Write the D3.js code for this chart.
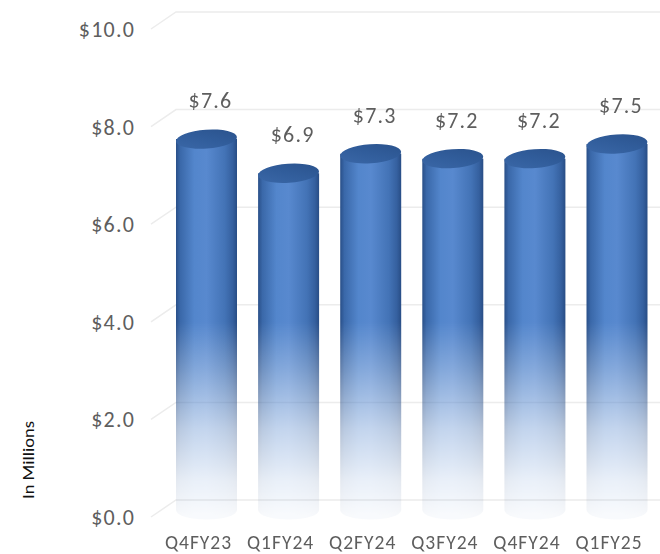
<!DOCTYPE html>
<html>
<head>
<meta charset="utf-8">
<script src="https://cdn.jsdelivr.net/npm/d3@7"></script>
<style>
  html, body { margin: 0; padding: 0; background: #fff; }
  svg { display: block; }
  text { font-family: Carlito, Calibri, Lato, "Open Sans", sans-serif; fill: #5e5e5e; }
</style>
</head>
<body>
<svg id="chart" width="660" height="554"></svg>
<script>
// Quarterly values, in millions of dollars
const quarters = ["Q4FY23", "Q1FY24", "Q2FY24", "Q3FY24", "Q4FY24", "Q1FY25"];
const revenue = [7.6, 6.9, 7.3, 7.2, 7.2, 7.5];
const yTicks = [0, 2, 4, 6, 8, 10];
const yTitle = "In Millions";

const svg = d3.select("#chart");
const W = 660, H = 554;

// Front-edge value scale; the back wall sits up and to the right of it
const y = d3.scaleLinear().domain([0, 10]).range([517, 29]);
const depthX = 25, depthY = -17;
const x = d3.scalePoint().domain(quarters).range([206.5, 617]);
const barW = 61;
const rx = barW / 2, ry = 9.5;

const defs = svg.append("defs");

// Horizontal shading across the cylinder body
const bodyGrad = defs.append("linearGradient").attr("id", "body").attr("x1", 0).attr("x2", 1).attr("y1", 0).attr("y2", 0);
[[0, "#294f88"], [0.07, "#3a68a9"], [0.3, "#5386cc"], [0.5, "#5889cf"], [0.8, "#4373b6"], [0.93, "#35609f"], [1, "#284d85"]]
  .forEach(([o, c]) => bodyGrad.append("stop").attr("offset", o).attr("stop-color", c));

// Top cap shading
const capGrad = defs.append("linearGradient").attr("id", "cap").attr("x1", 0).attr("x2", 1).attr("y1", 1).attr("y2", 0);
[[0, "#3b68a8"], [0.5, "#315d9b"], [1, "#2a528c"]]
  .forEach(([o, c]) => capGrad.append("stop").attr("offset", o).attr("stop-color", c));

// Vertical fade toward the floor
const fadeGrad = defs.append("linearGradient").attr("id", "fade")
  .attr("gradientUnits", "userSpaceOnUse").attr("x1", 0).attr("x2", 0).attr("y1", 322).attr("y2", 515);
[[0, 1], [0.25, 0.72], [0.55, 0.36], [0.82, 0.13], [1, 0.04]]
  .forEach(([o, a]) => fadeGrad.append("stop").attr("offset", o).attr("stop-color", "#fff").attr("stop-opacity", a));
defs.append("mask").attr("id", "fadeMask").attr("maskUnits", "userSpaceOnUse")
  .attr("x", 0).attr("y", 0).attr("width", W).attr("height", H)
  .append("rect").attr("width", W).attr("height", H).attr("fill", "url(#fade)");

// Gridlines: short diagonal from the front edge, then along the back wall
const grid = svg.append("g").attr("stroke", "#ececec").attr("stroke-width", 1.5).attr("fill", "none");
yTicks.forEach(t => {
  const fx = 151, fy = y(t);
  grid.append("path")
    .attr("d", `M${fx},${fy} L${fx + depthX},${fy + depthY} L${W},${fy + depthY}`);
});

// Y tick labels
svg.append("g").selectAll("text").data(yTicks).join("text")
  .attr("x", 135).attr("y", d => y(d)).attr("dy", "0.36em")
  .attr("text-anchor", "end").attr("font-size", 22).attr("letter-spacing", 1.2)
  .text(d => "$" + d.toFixed(1));

// Axis title
svg.append("text")
  .attr("transform", "translate(28,460) rotate(-90)")
  .attr("text-anchor", "middle").attr("dy", "0.36em")
  .attr("font-size", 16).attr("textLength", 78).attr("lengthAdjust", "spacingAndGlyphs")
  .style("fill", "#111")
  .text(yTitle);

// Cylinders; centre line sits midway through the depth
const mid = v => y(v) + depthY / 2 + 1.5;
const bars = svg.append("g").attr("mask", "url(#fadeMask)");
quarters.forEach((q, i) => {
  const cx = x(q), top = mid(revenue[i]), base = mid(0);
  const g = bars.append("g");
  g.append("path")
    .attr("d", `M${cx - rx},${top} L${cx - rx},${base} A${rx},${ry} 0 0 0 ${cx + rx},${base} L${cx + rx},${top} Z`)
    .attr("fill", "url(#body)");
  g.append("ellipse")
    .attr("cx", cx).attr("cy", top).attr("rx", rx).attr("ry", ry)
    .attr("transform", `rotate(-4,${cx},${top})`)
    .attr("fill", "url(#cap)");
});

// Value labels
svg.append("g").selectAll("text").data(quarters).join("text")
  .attr("x", d => x(d) + 4)
  .attr("y", (d, i) => mid(revenue[i]) - 39)
  .attr("dy", "0.36em").attr("text-anchor", "middle").attr("font-size", 22).attr("letter-spacing", 1.2)
  .text((d, i) => "$" + revenue[i].toFixed(1));

// Category labels
svg.append("g").selectAll("text").data(quarters).join("text")
  .attr("x", d => x(d) - 8)
  .attr("y", 549)
  .attr("text-anchor", "middle").attr("font-size", 19.5).attr("letter-spacing", 1)
  .text(d => d);
</script>
</body>
</html>
